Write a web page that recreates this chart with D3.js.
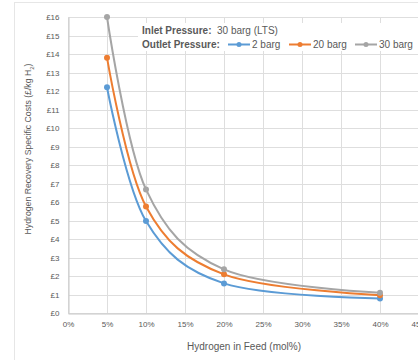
<!DOCTYPE html>
<html><head><meta charset="utf-8">
<script src="https://cdn.jsdelivr.net/npm/d3@7"></script>
<style>body{margin:0;background:#fff}svg{display:block;font-family:"Liberation Sans",Arial,sans-serif}</style>
</head><body>
<svg id="c" width="418" height="360"></svg>
<script>
const feed = [0.05, 0.10, 0.20, 0.40];
const series = [
  {name: "2 barg",  color: "#5B9BD5", values: [12.2, 4.97, 1.6, 0.78]},
  {name: "20 barg", color: "#ED7D31", values: [13.8, 5.76, 2.09, 0.96]},
  {name: "30 barg", color: "#A5A5A5", values: [16.0, 6.68, 2.36, 1.1]}
];
const xTicks = [0,0.05,0.10,0.15,0.20,0.25,0.30,0.35,0.40,0.45];
const yTicks = d3.range(0,17);

const svg = d3.select("#c");
const m = {l:68, r:419, t:17, b:313};
const x = d3.scaleLinear().domain([0,0.45]).range([m.l,m.r]);
const y = d3.scaleLinear().domain([0,16]).range([m.b,m.t]);

// outer border
svg.append("rect").attr("x",14.5).attr("y",2.5).attr("width",420).attr("height",380)
  .attr("fill","none").attr("stroke","#e6e6e6");

// gridlines
svg.append("g").selectAll("line.h").data(yTicks).join("line")
  .attr("x1",m.l).attr("x2",m.r).attr("y1",d=>Math.round(y(d))+0.5).attr("y2",d=>Math.round(y(d))+0.5)
  .attr("stroke","#dedede").attr("stroke-width",1);
svg.append("g").selectAll("line.v").data(xTicks).join("line")
  .attr("y1",m.t).attr("y2",m.b).attr("x1",d=>Math.round(x(d))+0.5).attr("x2",d=>Math.round(x(d))+0.5)
  .attr("stroke","#dedede").attr("stroke-width",1);

// axes
const xa = svg.append("g").attr("transform",`translate(0,${Math.round(y(0))+0.5})`)
  .call(d3.axisBottom(x).tickValues(xTicks).tickFormat(d=>Math.round(d*100)+"%").tickSize(0).tickPadding(8));
xa.select(".domain").attr("stroke","#c8c8c8");
xa.selectAll("text").attr("fill","#595959").style("font-size","8px");
const ya = svg.append("g").attr("transform",`translate(${Math.round(x(0))+0.5},0)`)
  .call(d3.axisLeft(y).tickValues(yTicks).tickFormat(d=>"£"+d).tickSize(0).tickPadding(9));
ya.select(".domain").attr("stroke","#c8c8c8");
ya.selectAll("text").attr("fill","#595959").style("font-size","8px");

// axis titles
svg.append("text").attr("x",244).attr("y",350).attr("text-anchor","middle")
  .attr("fill","#595959").style("font-size","10px").text("Hydrogen in Feed (mol%)");
const yt = svg.append("text").attr("transform",`translate(31,149) rotate(-90)`)
  .attr("text-anchor","middle").attr("fill","#595959").style("font-size","8.7px");
yt.append("tspan").text("Hydrogen Recovery Specific Costs (£/kg H");
yt.append("tspan").attr("baseline-shift","sub").style("font-size","6px").text("2");
yt.append("tspan").text(")");

// lines
const line = d3.line().x((d,i)=>x(feed[i])).y(d=>y(d)).curve(d3.curveCardinal.tension(0));
series.forEach(s=>{
  svg.append("path").datum(s.values).attr("d",line).attr("fill","none")
    .attr("stroke",s.color).attr("stroke-width",2);
  svg.append("g").selectAll("circle").data(s.values).join("circle")
    .attr("cx",(d,i)=>x(feed[i])).attr("cy",d=>y(d)).attr("r",3).attr("fill",s.color);
});

// legend
svg.append("rect").attr("x",138).attr("y",23).attr("width",282).attr("height",28).attr("fill","#fff");
const lg = svg.append("g").style("font-size","10px").attr("fill","#595959");
lg.append("text").attr("x",142).attr("y",34).attr("font-weight","bold").text("Inlet Pressure:");
lg.append("text").attr("x",217).attr("y",34).text("30 barg (LTS)");
lg.append("text").attr("x",142).attr("y",48).attr("font-weight","bold").text("Outlet Pressure:");
const lx = [228, 289, 355];
series.forEach((s,i)=>{
  const g = lg.append("g");
  g.append("line").attr("x1",lx[i]).attr("x2",lx[i]+22).attr("y1",44.5).attr("y2",44.5)
    .attr("stroke",s.color).attr("stroke-width",2);
  g.append("circle").attr("cx",lx[i]+11).attr("cy",44.5).attr("r",2.5).attr("fill",s.color);
  g.append("text").attr("x",lx[i]+24).attr("y",48).text(s.name);
});
</script>
</body></html>
